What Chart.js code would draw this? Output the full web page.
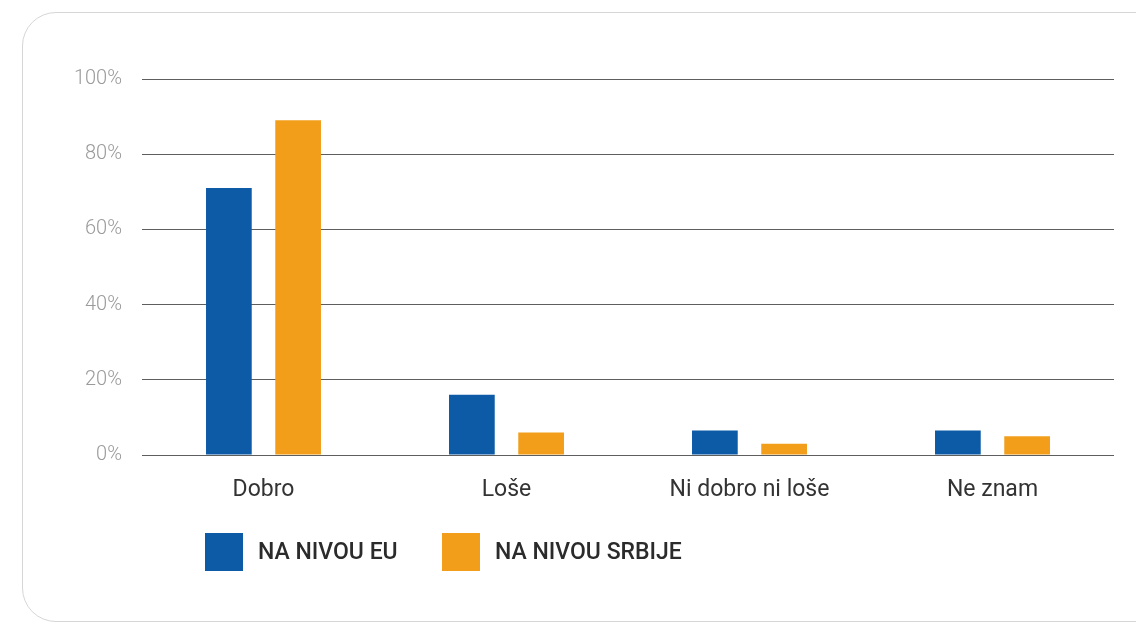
<!DOCTYPE html>
<html>
<head>
<meta charset="utf-8">
<script src="https://cdn.jsdelivr.net/npm/chart.js@4.4.1/dist/chart.umd.min.js"></script>
<style>
  body { margin: 0; background: #fff; width: 1136px; height: 625px; overflow: hidden; position: relative; }
  #frame { position: absolute; left: 22px; top: 12px; width: 1200px; height: 608px; border: 1px solid #d6d6d6; border-radius: 34px; }
  #wrap { position: absolute; left: 0; top: 0; width: 1136px; height: 625px; }
  #legend { position: absolute; top: 533px; left: 205px; font-family: Roboto, sans-serif; font-weight: 500; font-size: 23px; color: #2b2b2b; }
  .item { position: absolute; top: 0; white-space: nowrap; }
  .box { position: absolute; top: 0; width: 38px; height: 38px; }
  .label { position: absolute; top: 5px; }
</style>
</head>
<body>
<div id="frame"></div>
<div id="wrap"><canvas id="chart" width="1136" height="625"></canvas></div>
<div id="legend"></div>
<script>
const categories = ["Dobro", "Loše", "Ni dobro ni loše", "Ne znam"];
const euValues = [71, 16, 6.5, 6.5];
const srbijaValues = [89, 6, 3, 5];
const seriesNames = ["NA NIVOU EU", "NA NIVOU SRBIJE"];
const seriesColors = ["#0d5aa7", "#f29e1b"];
const tickValues = [0, 20, 40, 60, 80, 100];

// legend drawn as html, left aligned like the original
const legend = document.getElementById("legend");
const legendOffsets = [0, 237];
seriesNames.forEach((name, i) => {
  const item = document.createElement("div");
  item.className = "item";
  item.style.left = legendOffsets[i] + "px";
  item.innerHTML = `<div class="box" style="background:${seriesColors[i]}"></div><div class="label" style="left:53px">${name}</div>`;
  legend.appendChild(item);
});

const ctx = document.getElementById("chart").getContext("2d");
const myChart = new Chart(ctx, {
  type: "bar",
  data: {
    labels: categories,
    datasets: [
      { label: seriesNames[0], data: euValues, backgroundColor: seriesColors[0] },
      { label: seriesNames[1], data: srbijaValues, backgroundColor: seriesColors[1] }
    ]
  },
  options: {
    responsive: false,
    animation: false,
    categoryPercentage: 0.57,
    barPercentage: 0.66,
    layout: { padding: { left: 60, right: 22, top: 79, bottom: 120 } },
    plugins: { legend: { display: false }, tooltip: { enabled: false } },
    scales: {
      x: {
        grid: { display: false },
        border: { display: false },
        ticks: { color: "#333", padding: 13, font: { family: "Roboto", size: 23 } },
        afterFit: scale => { scale.height = 50; }
      },
      y: {
        min: 0,
        max: 100,
        afterBuildTicks: scale => { scale.ticks = tickValues.map(v => ({ value: v })); },
        grid: { color: "#5e5e5e", lineWidth: 1, drawTicks: false },
        border: { display: false },
        ticks: {
          color: "#9a9a9a",
          padding: 20,
          font: { family: "Roboto", size: 20, weight: 300 },
          callback: v => v + "%"
        },
        afterFit: scale => { scale.width = 82; }
      }
    }
  }
});
</script>
</body>
</html>
